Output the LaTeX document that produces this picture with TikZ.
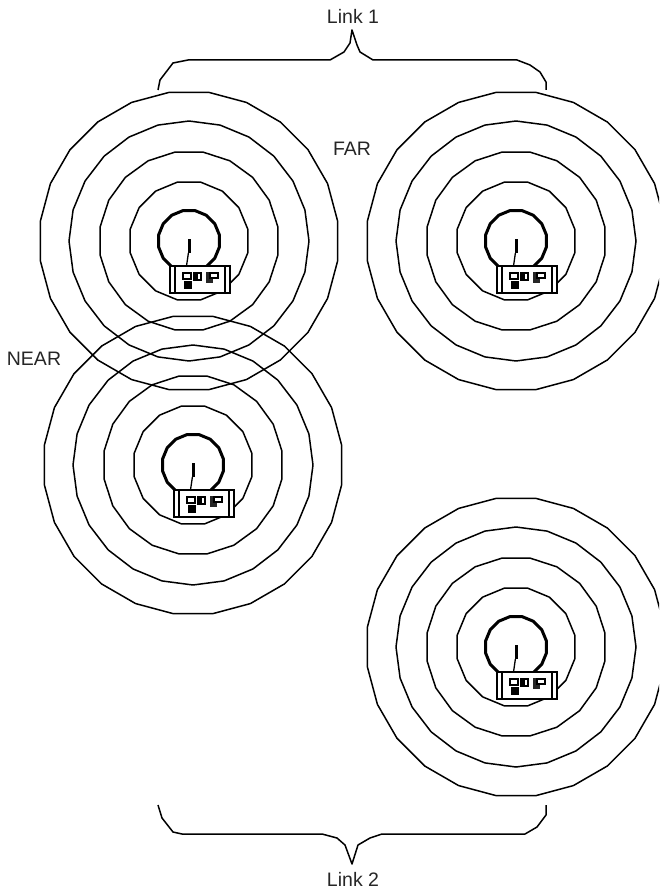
\documentclass[tikz,border=0pt]{standalone}
\usepackage{fontspec}
\setmainfont{Liberation Sans}
\usetikzlibrary{shapes.geometric}

\begin{document}
\begin{tikzpicture}[
  x=1pt,y=-1pt,
  line/.style={line width=1.5pt,draw=black,line join=round},
  ring/.style={line,regular polygon,regular polygon sides=#1,inner sep=0pt,outer sep=0pt},
  feed/.style={line width=3pt,draw=black,line join=round},
  tagtext/.style={font=\fontsize{19.5}{20}\selectfont,text=black!85,inner sep=0pt},
  radio/.pic={
    \draw[line width=3pt] (0,-2) -- (0,12);
    \draw[line width=1.3pt] (-.6,12) -- (-2.5,25);
    \draw[line width=1.8pt,fill=white] (-19,25) rectangle (41,52);
    \draw[line width=1.5pt] (-14,25) -- (-14,52) (36,25) -- (36,52);
    \draw[line width=2.2pt,fill=white] (-6,32) rectangle (2,38);
    \fill (-5,39.5) rectangle (3,47.5);
    \fill (4,31) rectangle (13,40);
    \fill[white] (9,33) rectangle (11,38);
    \fill[black!85] (17,31) rectangle (24,42);
    \draw[line width=2pt,fill=white] (21,32) rectangle (29,37);
  }
]
\clip (0,0) rectangle (659,893);
% the four sites
\foreach \cx/\cy/\site in {189/241/a,516/241/b,193/465/c,516/647/d}{
  \foreach \ringrad/\nsides/\tilt in {150/24/0,120/24/7.5,90/20/0,60/16/0}{
    \node[ring=\nsides,shape border rotate=\tilt,minimum size=2*\ringrad*1pt] (\site ring\ringrad) at (\cx,\cy) {};
  }
  \node[ring=16,feed,minimum size=62pt] (\site core) at (\cx,\cy) {};
  \pic at (\cx,\cy) {radio};
}
% braces
\draw[line] (158,90) -- (160,80) -- (173,63) -- (188,60) -- (330,60) -- (344,52) -- (350,43) -- (352,30) -- (357,45) -- (360,52) -- (373,60) -- (517,60) -- (530,65) -- (540,72) -- (546,82) -- (546,90);
\draw[line] (158,805) -- (162,818) -- (173,832) -- (182,834) -- (322,834) -- (337,838) -- (345,845) -- (352,864) -- (358,845) -- (370,838) -- (382,834) -- (525,834) -- (537,827) -- (546,815) -- (546,805);
\node[tagtext] (link1) at (353,16) {Link 1};
\node[tagtext] (far) at (352,149) {FAR};
\node[tagtext] (near) at (34,359) {NEAR};
\node[tagtext] (link2) at (353,879) {Link 2};
\end{tikzpicture}
\end{document}
